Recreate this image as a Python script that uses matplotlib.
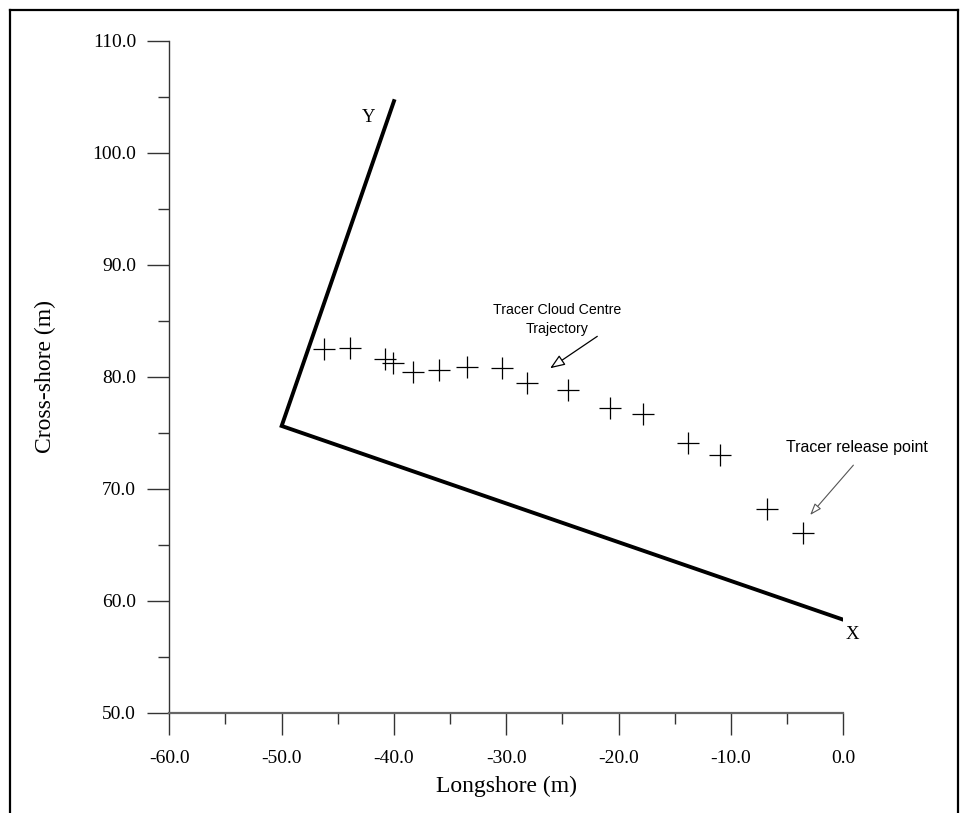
import matplotlib
matplotlib.use('Agg')
import matplotlib.pyplot as plt
from matplotlib.lines import Line2D
import numpy as np

plt.rcParams['axes.unicode_minus'] = False

# tracer cloud centre positions (m)
longshore = [-46.2, -43.9, -40.8, -40.1, -38.3, -36.0, -33.5, -30.4, -28.2,
             -24.5, -20.8, -17.8, -13.8, -11.0, -6.8, -3.6]
crossshore = [82.5, 82.6, 81.6, 81.2, 80.4, 80.6, 80.9, 80.8, 79.4,
              78.8, 77.2, 76.7, 74.1, 73.0, 68.2, 66.0]

# local coordinate axes (Y end, origin, X end)
axis_x = [-40.0, -50.0, 0.0]
axis_y = [104.6, 75.6, 58.3]

x_ticks = np.arange(-60, 1, 10)
y_ticks = np.arange(50, 111, 10)

fig = plt.figure(figsize=(9.61, 8.13), dpi=100)
ax = fig.add_axes([0.1762, 0.1234, 0.7013, 0.8266])

ax.plot(axis_x, axis_y, color='black', lw=2.8, solid_joinstyle='miter')
ax.plot(longshore, crossshore, '+', color='black', markersize=16.5, mew=0.9)

ax.text(-42.3, 103.1, 'Y', family='Liberation Serif', fontsize=13.5, ha='center', va='center')
ax.text(0.8, 57.0, 'X', family='Liberation Serif', fontsize=13.5, ha='center', va='center')

# annotations
ax.text(-25.5, 85.1, 'Tracer Cloud Centre\nTrajectory', ha='center', va='center',
        family='Liberation Sans', fontsize=10.2, linespacing=1.5)
ax.annotate('', xy=(-26.1, 80.75), xytext=(-21.9, 83.6),
            arrowprops=dict(arrowstyle='-|>,head_length=0.9,head_width=0.35',
                            fc='white', ec='black', lw=0.9, shrinkA=0, shrinkB=0))
ax.text(1.2, 73.7, 'Tracer release point', ha='center', va='center',
        family='Liberation Sans', fontsize=11.5)
ax.annotate('', xy=(-2.95, 67.65), xytext=(0.9, 72.1), annotation_clip=False,
            arrowprops=dict(arrowstyle='-|>,head_length=0.7,head_width=0.25',
                            fc='white', ec='#555555', lw=0.8, shrinkA=0, shrinkB=0))

ax.set_xlim(-60, 0)
ax.set_ylim(50, 110)
ax.set_xticks(x_ticks)
ax.set_yticks(y_ticks)
ax.set_xticks(np.arange(-55, 0, 10), minor=True)
ax.set_yticks(np.arange(55, 110, 10), minor=True)
ax.set_xticklabels([f'{v:.1f}' for v in x_ticks])
ax.set_yticklabels([f'{v:.1f}' for v in y_ticks])

for side in ['top', 'right']:
    ax.spines[side].set_visible(False)
ax.spines['left'].set_color('#333333')
ax.spines['left'].set_linewidth(1.0)
ax.spines['bottom'].set_color('#666666')
ax.spines['bottom'].set_linewidth(1.6)

ax.tick_params(which='major', length=16, width=1.0, color='#333333', pad=8)
ax.tick_params(axis='x', which='major', pad=11)
ax.tick_params(which='minor', length=8, width=1.0, color='#333333')
for lab in ax.get_xticklabels() + ax.get_yticklabels():
    lab.set_family('Liberation Serif')
    lab.set_fontsize(14)

ax.set_xlabel('Longshore (m)', family='Liberation Serif', fontsize=17, labelpad=6)
ax.set_ylabel('Cross-shore (m)', family='Liberation Serif', fontsize=17, labelpad=26)

# outer frame
frame_kw = dict(color='black', lw=1.6, transform=fig.transFigure)
fig.add_artist(Line2D([0.0099, 0.0099], [0.0, 0.9877], **frame_kw))
fig.add_artist(Line2D([0.0099, 0.9969], [0.9877, 0.9877], **frame_kw))
fig.add_artist(Line2D([0.9969, 0.9969], [0.0, 0.9877], **frame_kw))

fig.savefig('out.png', dpi=100)
plt.close()
